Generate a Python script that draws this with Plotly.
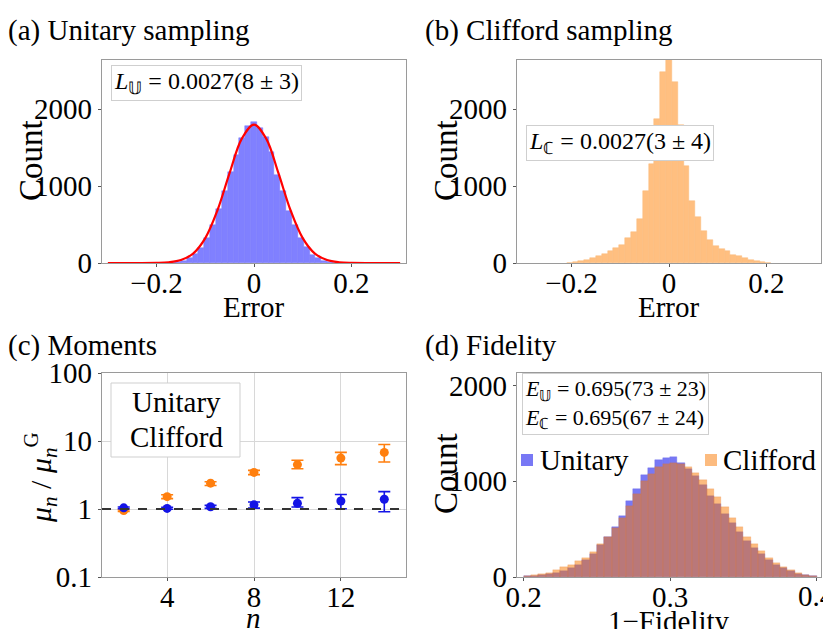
import plotly.graph_objects as go

W, H = 815, 621          # page body has an 8px margin inside the 831x637 window
OFF = 8
FONT = "Liberation Serif"

# (a) Unitary sampling histogram (bin width 0.012, centred on k*0.012)
err_bin = 0.012
u_k = list(range(-15, 16))
u_counts = [2, 6, 15, 30, 60, 120, 200, 330, 490, 700, 930, 1180, 1400, 1620, 1780,
            1830,
            1750, 1640, 1450, 1150, 940, 680, 500, 320, 210, 110, 65, 32, 14, 6, 2]
fit_x = [-0.3, -0.2, -0.175, -0.15, -0.125, -0.1, -0.075, -0.05, -0.025, 0.0,
         0.025, 0.05, 0.075, 0.1, 0.125, 0.15, 0.175, 0.2, 0.3]
fit_y = [0, 1, 9, 38, 123, 324, 686, 1172, 1617, 1800,
         1617, 1172, 686, 324, 123, 38, 9, 1, 0]

# (b) Clifford sampling histogram
c_k = list(range(-17, 18))
c_counts = [5, 12, 25, 40, 65, 90, 120, 160, 190, 230, 320, 400, 570, 930, 1290, 1870, 2480,
            2650,
            2350, 1790, 1260, 800, 600, 420, 300, 220, 180, 150, 110, 85, 60, 35, 20, 8, 3]

# (c) Moments
n_vals = [2, 4, 6, 8, 10, 12, 14]
mu_u = [1.04, 1.02, 1.08, 1.15, 1.21, 1.31, 1.39]
mu_u_hi = [1.07, 1.06, 1.13, 1.27, 1.47, 1.63, 1.80]
mu_u_lo = [1.01, 0.99, 1.02, 1.03, 1.07, 1.01, 0.91]
mu_c = [0.95, 1.52, 2.40, 3.45, 4.50, 5.60, 6.80]
mu_c_hi = [0.98, 1.62, 2.52, 3.70, 5.20, 6.80, 8.90]
mu_c_lo = [0.92, 1.42, 2.22, 3.20, 3.90, 4.50, 4.90]

# (d) Fidelity histograms
fid_edges_start, fid_bin = 0.2, 0.005
fid_u = [8, 12, 18, 28, 45, 65, 95, 130, 175, 240, 330, 420, 520, 640, 790, 920, 1060, 1140, 1220, 1240,
         1250, 1190, 1130, 1050, 960, 850, 760, 660, 560, 470, 380, 300, 240, 180, 130, 90, 60, 35, 20, 10]
fid_c = [15, 25, 35, 45, 70, 100, 130, 165, 200, 260, 340, 420, 510, 620, 740, 870, 1000, 1080, 1150, 1180,
         1190, 1180, 1150, 1090, 1010, 920, 840, 730, 620, 520, 420, 340, 270, 200, 150, 105, 70, 45, 25, 15]
fid_ticks = [0.2, 0.3, 0.4]

BLUE_BAR = "rgb(128,128,255)"
ORANGE_BAR = "rgb(255,191,128)"


def px_x(p):
    return (p - OFF) / W


def px_y(p):
    return 1 - (p - OFF) / H


fig = go.Figure()

# (a)
fig.add_trace(go.Bar(x=[k * err_bin for k in u_k], y=u_counts, width=err_bin,
                     marker=dict(color=BLUE_BAR, line=dict(width=0.5, color="rgb(120,120,250)")),
                     xaxis="x", yaxis="y", showlegend=False))
fig.add_trace(go.Scatter(x=fit_x, y=fit_y, mode="lines", line=dict(color="red", width=2.2, shape="spline"),
                         xaxis="x", yaxis="y", showlegend=False))
# (b)
fig.add_trace(go.Bar(x=[k * err_bin for k in c_k], y=c_counts, width=err_bin,
                     marker=dict(color=ORANGE_BAR, line=dict(width=0.5, color="rgb(250,185,120)")),
                     xaxis="x2", yaxis="y2", showlegend=False))
# (c)
fig.add_trace(go.Scatter(x=n_vals, y=mu_c, mode="markers", marker=dict(color="rgb(255,127,14)", size=9),
                         error_y=dict(type="data", symmetric=False,
                                      array=[h - m for h, m in zip(mu_c_hi, mu_c)],
                                      arrayminus=[m - l for m, l in zip(mu_c, mu_c_lo)],
                                      color="rgb(255,127,14)", thickness=1.6, width=6),
                         xaxis="x3", yaxis="y3", showlegend=False))
fig.add_trace(go.Scatter(x=n_vals, y=mu_u, mode="markers", marker=dict(color="rgb(20,20,230)", size=9),
                         error_y=dict(type="data", symmetric=False,
                                      array=[h - m for h, m in zip(mu_u_hi, mu_u)],
                                      arrayminus=[m - l for m, l in zip(mu_u, mu_u_lo)],
                                      color="rgb(20,20,230)", thickness=1.6, width=6),
                         xaxis="x3", yaxis="y3", showlegend=False))
# (d)
fid_x = [fid_edges_start + fid_bin * (i + 0.5) for i in range(len(fid_u))]
fig.add_trace(go.Bar(x=fid_x, y=fid_u, width=fid_bin,
                     marker=dict(color="rgb(120,120,245)", line=dict(width=0.4, color="rgb(110,110,235)")),
                     xaxis="x4", yaxis="y4", showlegend=False))
fig.add_trace(go.Bar(x=fid_x, y=fid_c, width=fid_bin,
                     marker=dict(color="rgba(250,120,0,0.5)", line=dict(width=0.4, color="rgba(230,120,40,0.5)")),
                     xaxis="x4", yaxis="y4", showlegend=False))

axcommon = dict(showline=True, linecolor="#9a9a9a", linewidth=1.3, mirror=True, automargin=False,
                ticks="outside", ticklen=3, tickcolor="#555", showgrid=False, zeroline=False,
                tickfont=dict(family=FONT, size=29, color="black"))
xcommon = dict(axcommon, ticklabelstandoff=-9)

dom_x_left = [px_x(102), px_x(406)]
dom_x_right = [px_x(517), px_x(821)]
dom_y_top = [px_y(263), px_y(60)]
dom_y_bot = [px_y(577), px_y(373)]

fig.update_layout(
    width=W, height=H, margin=dict(l=0, r=0, t=0, b=0, autoexpand=False),
    plot_bgcolor="white", paper_bgcolor="white", barmode="overlay", bargap=0,
    font=dict(family=FONT, color="black"),
    xaxis=dict(xcommon, domain=dom_x_left, anchor="y", range=[-0.312, 0.312],
               tickvals=[-0.2, 0, 0.2], ticktext=["−0.2", "0", "0.2"]),
    yaxis=dict(axcommon, domain=dom_y_top, anchor="x", range=[0, 2640], tickvals=[0, 1000, 2000]),
    xaxis2=dict(xcommon, domain=dom_x_right, anchor="y2", range=[-0.312, 0.312],
                tickvals=[-0.2, 0, 0.2], ticktext=["−0.2", "0", "0.2"]),
    yaxis2=dict(axcommon, domain=dom_y_top, anchor="x2", range=[0, 2640], tickvals=[0, 1000, 2000]),
    xaxis3=dict(xcommon, domain=dom_x_left, anchor="y3", range=[1.0, 15.0], tickvals=[4, 8, 12],
                showgrid=True, gridcolor="#d8d8d8"),
    yaxis3=dict(axcommon, domain=dom_y_bot, anchor="x3", type="log", range=[-1, 2],
                tickvals=[0.1, 1, 10, 100], ticktext=["0.1", "1", "10", "100"],
                showgrid=True, gridcolor="#d8d8d8"),
    xaxis4=dict(xcommon, domain=dom_x_right, anchor="y4", range=[0.1955, 0.403],
                tickvals=fid_ticks, ticktext=["0.2", "0.3", ""]),
    yaxis4=dict(axcommon, domain=dom_y_bot, anchor="x4", range=[0, 2130], tickvals=[0, 1000, 2000]),
)

# dashed reference line at 1 in (c)
fig.add_shape(type="line", xref="x3 domain", yref="y3", x0=0, x1=1, y0=1, y1=1,
              line=dict(color="#333", width=2, dash="dash"))

ann = []


def txt(x, y, s, size=26, xanchor="left", **kw):
    ann.append(dict(xref="paper", yref="paper", x=px_x(x), y=px_y(y), text=s, showarrow=False,
                    xanchor=xanchor, yanchor="middle", font=dict(family=FONT, size=size, color="black"), **kw))


txt(6, 30, "(a) Unitary sampling", size=29)
txt(423, 30, "(b) Clifford sampling", size=29)
txt(6, 345, "(c) Moments", size=29)
txt(423, 345, "(d) Fidelity", size=29)

# last tick label of (d), which sits at the page edge
ann.append(dict(xref="x4", yref="paper", x=fid_ticks[-1], y=px_y(596), text="0.4", showarrow=False,
                xanchor="center", yanchor="middle", font=dict(family=FONT, size=29, color="black")))

# axis titles
txt(254, 307, "Error", size=29, xanchor="center")
txt(669, 307, "Error", size=29, xanchor="center")
txt(254, 618, "<i>n</i>", size=29, xanchor="center")
txt(669, 621, "1−Fidelity", size=29, xanchor="center")
txt(31, 161, "Count", size=33, xanchor="center", textangle=-90)
txt(446, 161, "Count", size=33, xanchor="center", textangle=-90)
txt(446, 474, "Count", size=33, xanchor="center", textangle=-90)
txt(40, 478, "<i>μ<sub>n</sub></i> / <i>μ<sub>n</sub></i><sup>G</sup>", size=30, xanchor="center",
    textangle=-90)

box = dict(bordercolor="#cfcfcf", borderwidth=1, bgcolor="white")
txt(111, 83, "<i>L</i><sub>𝕌</sub> = 0.0027(8 ± 3)", size=24, borderpad=2, **box)
txt(526, 143, "<i>L</i><sub>ℂ</sub> = 0.0027(3 ± 4)", size=24, borderpad=2, **box)
txt(522, 404, "<i>E</i><sub>𝕌</sub> = 0.695(73 ± 23)<br><i>E</i><sub>ℂ</sub> = 0.695(67 ± 24)",
    size=22, borderpad=2, align="left", **box)

# legend box in (c)
fig.add_shape(type="rect", xref="paper", yref="paper", x0=px_x(111), x1=px_x(240), y0=px_y(457), y1=px_y(383),
              line=dict(color="#cfcfcf", width=1), fillcolor="white", layer="above")
txt(176, 402, "Unitary", size=29, xanchor="center")
txt(176, 437, "Clifford", size=29, xanchor="center")

# legend in (d)
fig.add_shape(type="rect", xref="paper", yref="paper", x0=px_x(521), x1=px_x(533), y0=px_y(466), y1=px_y(454),
              line=dict(width=0), fillcolor="rgb(120,120,245)", layer="above")
txt(538, 460, "Unitary", size=29)
fig.add_shape(type="rect", xref="paper", yref="paper", x0=px_x(705), x1=px_x(717), y0=px_y(466), y1=px_y(454),
              line=dict(width=0), fillcolor="rgb(252,187,127)", layer="above")
txt(721, 460, "Clifford", size=29)

fig.update_layout(annotations=ann)
fig.write_html("out.html")
